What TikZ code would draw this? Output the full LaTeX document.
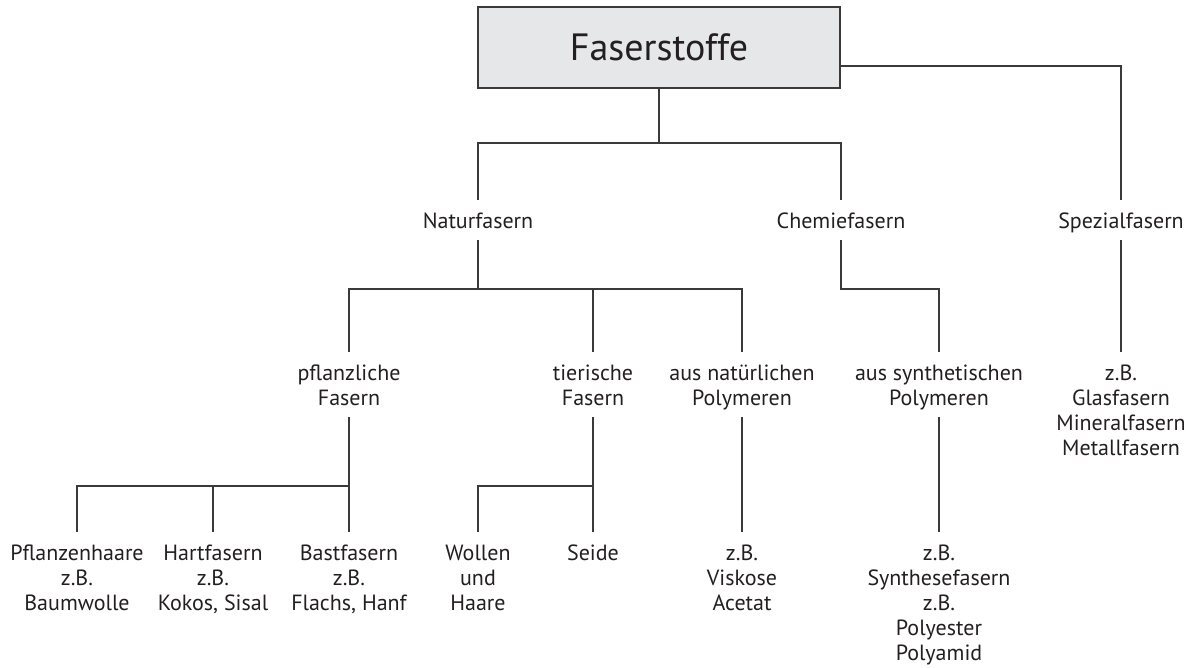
\documentclass[tikz,border=0pt]{standalone}
\usepackage{fontspec}
\setmainfont{PT Sans}
\definecolor{txt}{HTML}{231F20}
\definecolor{ln}{HTML}{3A3A3A}
\definecolor{boxfill}{HTML}{E6E7E8}
\newcommand\myst{\rule{0pt}{16.5pt}}
\begin{document}
\begin{tikzpicture}[x=1pt,y=-1pt,
  lbl/.style={anchor=north, align=center, inner xsep=0pt, inner ysep=11.5pt,
    font=\fontsize{22}{25}\selectfont, text=txt},
  conn/.style={draw=ln, line width=1.3pt},
  titlebox/.style={draw=ln, line width=1.5pt, fill=boxfill, minimum width=362pt,
    minimum height=81pt, inner sep=0pt, font=\fontsize{38}{46}\selectfont, text=txt}]
\useasboundingbox (0,0) rectangle (1189,667);

\node[titlebox] (top) at (659,47.5) {Faserstoffe};

% level 2
\node[lbl] (natur)   at (478,200)  {\myst\smash{Naturfasern}};
\node[lbl] (chemie)  at (841,200)  {\myst\smash{Chemiefasern}};
\node[lbl] (spezial) at (1121,200) {\myst\smash{Spezialfasern}};

% level 3
\node[lbl] (pfl)  at (349,352)  {\myst pflanzliche\\\smash{Fasern}};
\node[lbl] (tier) at (593,352)  {\myst tierische\\\smash{Fasern}};
\node[lbl] (nat)  at (742,352)  {\myst aus natürlichen\\\smash{Polymeren}};
\node[lbl] (syn)  at (939,352)  {\myst aus synthetischen\\\smash{Polymeren}};
\node[lbl] (spz)  at (1121,352) {\myst z.B.\\Glasfasern\\Mineralfasern\\\smash{Metallfasern}};

% level 4
\node[lbl] (pflh)   at (77,532)  {\myst Pflanzenhaare\\z.B.\\\smash{Baumwolle}};
\node[lbl] (hart)   at (213,532) {\myst Hartfasern\\z.B.\\\smash{Kokos, Sisal}};
\node[lbl] (bast)   at (349,532) {\myst Bastfasern\\z.B.\\\smash{Flachs, Hanf}};
\node[lbl] (wollen) at (478,532) {\myst Wollen\\und\\\smash{Haare}};
\node[lbl] (seide)  at (593,532) {\myst\smash{Seide}};
\node[lbl] (visk)   at (742,532) {\myst z.B.\\Viskose\\\smash{Acetat}};
\node[lbl] (synth)  at (939,532) {\myst z.B.\\Synthesefasern\\z.B.\\Polyester\\\smash{Polyamid}};

% junctions
\coordinate (j1) at (659,143);
\coordinate (j2) at (478,289);
\coordinate (j3) at (841,289);
\coordinate (j4) at (349,486);
\coordinate (j5) at (593,486);

% connectors
\draw[conn] (top.south) -- (j1);
\draw[conn] (natur.north) |- (j1) -| (chemie.north);
\draw[conn] ([yshift=-18.5pt]top.east) -| (spezial.north);

\draw[conn] (natur.south) -- (j2);
\draw[conn] (pfl.north) |- (j2) -| (nat.north);
\draw[conn] (tier.north) -- (tier.north |- j2);
\draw[conn] (chemie.south) -- (j3) -| (syn.north);
\draw[conn] (spezial.south) -- (spz.north);

\draw[conn] (pfl.south) -- (bast.north);
\draw[conn] (pflh.north) |- (j4);
\draw[conn] (hart.north) -- (hart.north |- j4);
\draw[conn] (tier.south) -- (seide.north);
\draw[conn] (wollen.north) |- (j5);
\draw[conn] (nat.south) -- (visk.north);
\draw[conn] (syn.south) -- (synth.north);
\end{tikzpicture}
\end{document}
